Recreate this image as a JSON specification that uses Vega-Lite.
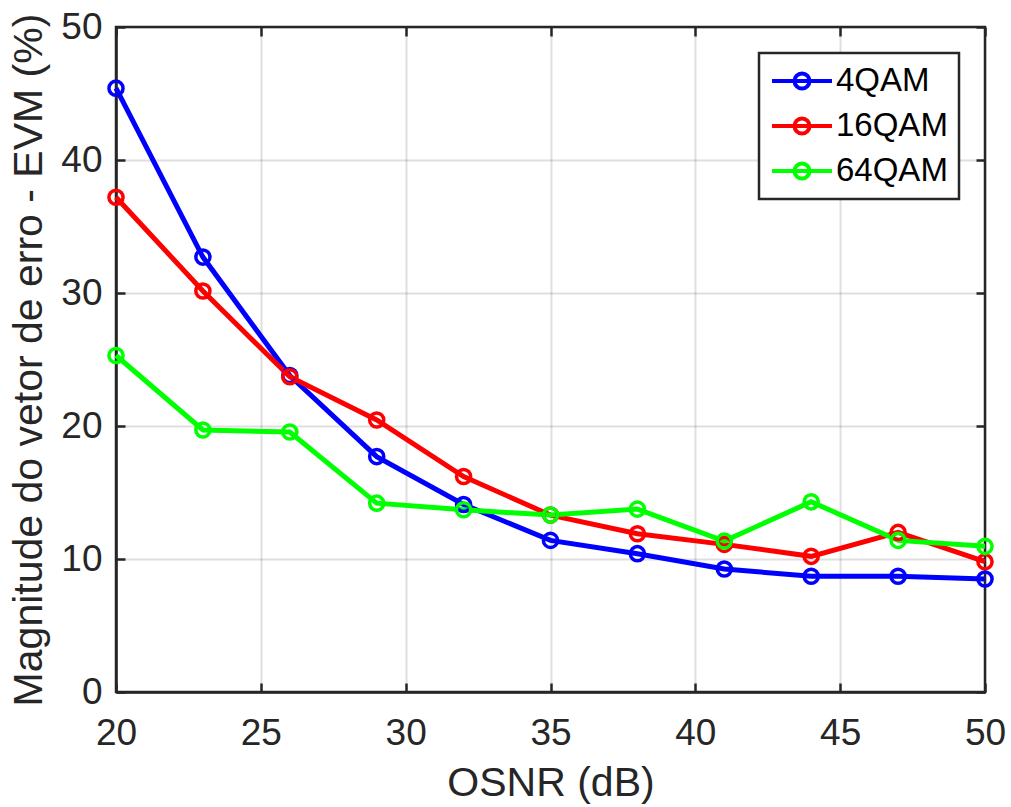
{
  "$schema": "https://vega.github.io/schema/vega-lite/v6.json",
  "width": 869,
  "height": 665,
  "autosize": {"type": "none"},
  "padding": {"left": 116, "top": 27, "right": 26, "bottom": 115},
  "background": "white",
  "config": {
    "font": "Liberation Sans",
    "view": {"stroke": "#262626", "strokeWidth": 2.5},
    "axis": {
      "domainColor": "#262626",
      "domainWidth": 2.5,
      "tickColor": "#262626",
      "tickWidth": 2.5,
      "tickSize": -9,
      "gridColor": "#262626",
      "gridOpacity": 0.15,
      "gridWidth": 2,
      "labelColor": "#262626",
      "labelFontSize": 37,
      "labelFont": "Liberation Sans",
      "labelFlush": false,
      "titleFont": "Liberation Sans",
      "titleFontSize": 41,
      "titleFontWeight": "normal",
      "titleColor": "#262626"
    }
  },
  "data": {
    "values": [
      {"osnr": 20, "evm": 45.4, "mod": "4QAM"},
      {"osnr": 23, "evm": 32.7, "mod": "4QAM"},
      {"osnr": 26, "evm": 23.8, "mod": "4QAM"},
      {"osnr": 29, "evm": 17.7, "mod": "4QAM"},
      {"osnr": 32, "evm": 14.1, "mod": "4QAM"},
      {"osnr": 35, "evm": 11.4, "mod": "4QAM"},
      {"osnr": 38, "evm": 10.4, "mod": "4QAM"},
      {"osnr": 41, "evm": 9.25, "mod": "4QAM"},
      {"osnr": 44, "evm": 8.7, "mod": "4QAM"},
      {"osnr": 47, "evm": 8.7, "mod": "4QAM"},
      {"osnr": 50, "evm": 8.5, "mod": "4QAM"},
      {"osnr": 20, "evm": 37.2, "mod": "16QAM"},
      {"osnr": 23, "evm": 30.15, "mod": "16QAM"},
      {"osnr": 26, "evm": 23.7, "mod": "16QAM"},
      {"osnr": 29, "evm": 20.45, "mod": "16QAM"},
      {"osnr": 32, "evm": 16.2, "mod": "16QAM"},
      {"osnr": 35, "evm": 13.3, "mod": "16QAM"},
      {"osnr": 38, "evm": 11.9, "mod": "16QAM"},
      {"osnr": 41, "evm": 11.1, "mod": "16QAM"},
      {"osnr": 44, "evm": 10.2, "mod": "16QAM"},
      {"osnr": 47, "evm": 12.0, "mod": "16QAM"},
      {"osnr": 50, "evm": 9.8, "mod": "16QAM"},
      {"osnr": 20, "evm": 25.3, "mod": "64QAM"},
      {"osnr": 23, "evm": 19.7, "mod": "64QAM"},
      {"osnr": 26, "evm": 19.55, "mod": "64QAM"},
      {"osnr": 29, "evm": 14.2, "mod": "64QAM"},
      {"osnr": 32, "evm": 13.7, "mod": "64QAM"},
      {"osnr": 35, "evm": 13.3, "mod": "64QAM"},
      {"osnr": 38, "evm": 13.75, "mod": "64QAM"},
      {"osnr": 41, "evm": 11.35, "mod": "64QAM"},
      {"osnr": 44, "evm": 14.3, "mod": "64QAM"},
      {"osnr": 47, "evm": 11.4, "mod": "64QAM"},
      {"osnr": 50, "evm": 10.95, "mod": "64QAM"}
    ]
  },
  "resolve": {"axis": {"x": "independent", "y": "independent"}},
  "layer": [
    {
      "mark": {"type": "line", "strokeWidth": 5, "clip": false},
      "encoding": {
        "x": {
          "field": "osnr", "type": "quantitative",
          "scale": {"domain": [20, 50], "nice": false},
          "axis": {"title": "OSNR (dB)", "values": [20, 25, 30, 35, 40, 45, 50], "labelPadding": 32, "titlePadding": 12}
        },
        "y": {
          "field": "evm", "type": "quantitative",
          "scale": {"domain": [0, 50], "nice": false},
          "axis": {"title": "Magnitude do vetor de erro - EVM (%)", "values": [0, 10, 20, 30, 40, 50], "labelPadding": 23, "titlePadding": 10}
        },
        "color": {
          "field": "mod", "type": "nominal",
          "scale": {"domain": ["4QAM", "16QAM", "64QAM"], "range": ["#0000ff", "#ff0000", "#00ff00"]},
          "legend": {
            "title": null,
            "orient": "none",
            "legendX": 643,
            "legendY": 26,
            "direction": "vertical",
            "symbolType": "M-2,0H2M-0.5,0A0.5,0.5 0 1 1 0.5,0A0.5,0.5 0 1 1 -0.5,0",
            "symbolSize": 900,
            "symbolOffset": 15,
            "symbolStrokeWidth": 4,
            "symbolFillColor": "transparent",
            "labelFontSize": 33,
            "labelFont": "Liberation Sans",
            "labelColor": "#000000",
            "labelOffset": 17,
            "rowPadding": 11,
            "padding": 11,
            "strokeColor": "#262626",
            "fillColor": "white",
            "encode": {"legend": {"update": {"strokeWidth": {"value": 2.5}}}}
          }
        }
      }
    },
    {
      "mark": {"type": "point", "filled": false, "size": 200, "strokeWidth": 3.5, "opacity": 1, "clip": false},
      "encoding": {
        "x": {
          "field": "osnr", "type": "quantitative",
          "axis": {"orient": "top", "title": null, "labels": false, "grid": false, "domain": false, "values": [20, 25, 30, 35, 40, 45, 50]}
        },
        "y": {
          "field": "evm", "type": "quantitative",
          "axis": {"orient": "right", "title": null, "labels": false, "grid": false, "domain": false, "values": [0, 10, 20, 30, 40, 50]}
        },
        "color": {"field": "mod", "type": "nominal"}
      }
    }
  ]
}
